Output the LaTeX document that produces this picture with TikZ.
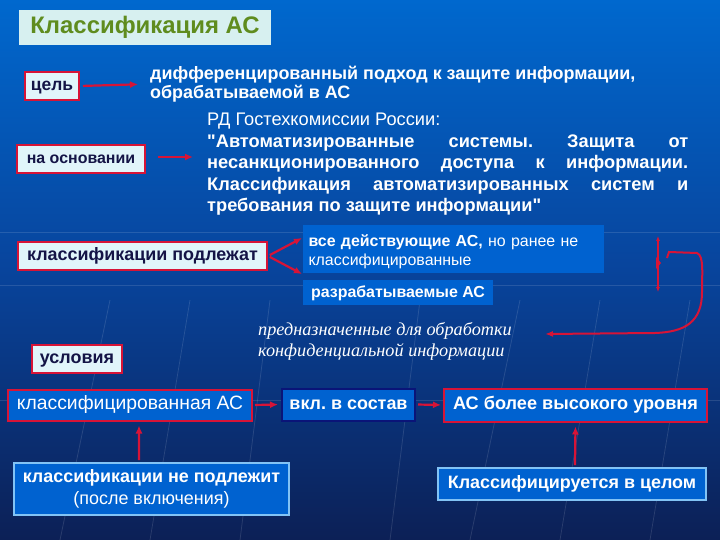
\documentclass[tikz,border=0pt]{standalone}
\usepackage{fontspec}
\setmainfont{Liberation Sans}[Ligatures=TeXOff]
\newfontfamily\serifit{Liberation Serif}
\usetikzlibrary{arrows.meta}
\frenchspacing
\definecolor{bgtop}{RGB}{0,104,206}
\definecolor{bgmid}{RGB}{8,68,156}
\definecolor{bgbot}{RGB}{12,32,86}
\definecolor{lightbox}{RGB}{225,245,250}
\definecolor{titlebox}{RGB}{215,240,240}
\definecolor{redb}{RGB}{215,20,55}
\definecolor{navytext}{RGB}{20,20,70}
\definecolor{bluebox}{RGB}{0,98,208}
\definecolor{titlegreen}{RGB}{95,140,30}
\definecolor{navyedge}{RGB}{10,20,120}
\definecolor{lightedge}{RGB}{130,195,245}
\tikzset{
  one/.style={text height=13bp, text depth=3.5bp},
  lbox/.style={draw=redb, line width=2bp, fill=lightbox, text=navytext, inner sep=0pt, one},
  bbox/.style={fill=bluebox, text=white, inner sep=0pt},
  rarrow/.style={draw=redb, line width=2.2bp, -{Latex[length=8bp,width=7bp]}},
  wtext/.style={text=white, inner sep=0pt},
  deco/.style={draw=white, opacity=0.12, line width=0.8bp}
}
\begin{document}
\frenchspacing
\begin{tikzpicture}[x=1bp,y=-1bp]
\fill[top color=bgtop, bottom color=bgbot, middle color=bgmid] (0,0) rectangle (720,540);
\useasboundingbox (0,0) rectangle (720,540);
% background texture
\foreach \xa/\xb in {110/60, 190/150, 270/240, 420/390, 520/470, 600/560, 690/650}
  \draw[deco] (\xa,300) -- (\xb,540);
\foreach \yy in {232, 285, 400}
  \draw[deco] (0,\yy) -- (720,\yy);

% title
\node[fill=titlebox, text=titlegreen, inner sep=0pt, minimum width=252bp, minimum height=35bp,
      text height=17bp, text depth=4.5bp,
      font=\fontsize{24}{27}\selectfont\bfseries] (title) at (145,27.5) {Классификация АС};

% цель
\node[lbox, minimum width=54bp, minimum height=28bp, font=\fontsize{17.5}{20}\selectfont\bfseries] (cel) at (52,86) {цель};
\node[wtext, anchor=west, align=left, font=\fontsize{18}{19}\selectfont\bfseries] (d1) at (150,84)
  {дифференцированный подход к защите информации,\\обрабатываемой в АС};
\draw[rarrow, shorten <=3bp, shorten >=12bp] (cel.east) -- (d1.west);

% на основании
\node[lbox, minimum width=128bp, minimum height=28bp, font=\fontsize{16}{19}\selectfont\bfseries] (osn) at (81,159) {на основании};
\node[wtext, anchor=north west, text width=481bp, align=justify, font=\fontsize{18.3}{21.5}\selectfont] (rd) at (207,113)
  {РД Гостехкомиссии России:\\ \bfseries "Автоматизированные системы. Защита от несанкционированного доступа к информации. Классификация автоматизированных систем и требования по защите информации"};
\coordinate (osnend) at (193,157);
\draw[rarrow, shorten <=12bp] (osn.east |- osnend) -- (osnend);

% классификации подлежат
\node[lbox, minimum width=249bp, minimum height=28bp, font=\fontsize{18}{21}\selectfont\bfseries] (podl) at (142.5,256) {классификации подлежат};
\node[bbox, minimum width=301bp, minimum height=48bp, text width=290bp, align=left, font=\fontsize{16}{19}\selectfont] (vse) at (453.5,249)
  {\rule{0pt}{17bp}\textbf{все действующие АС,} но ранее не\\классифицированные};
\node[bbox, one, minimum width=190bp, minimum height=25bp, font=\fontsize{16}{19}\selectfont\bfseries] (razr) at (398,292.5) {разрабатываемые АС};
\coordinate (a1) at (302,238);
\coordinate (a2) at (302,274);
\draw[rarrow, shorten <=2bp] (podl.east) -- (a1);
\draw[rarrow, shorten <=2bp] (podl.east) -- (a2);

% right-side hand drawn marks
\draw[redb, line width=1.8bp, {Latex[length=5bp,width=4bp]}-{Latex[length=5bp,width=4bp]}] (658,236) -- (658,292);
\fill[redb] (656,257) -- (661,263) -- (656,269) -- cycle;
\coordinate (hookend) at (545,334);
\draw[redb, line width=2bp, -{Latex[length=8bp,width=6bp]}]
  (667,258) -- (669,252) -- (697,253) .. controls (704,256) and (702,272) .. (702,292)
  .. controls (702,322) and (685,332) .. (655,333) -- (hookend);

% italic note
\node[wtext, anchor=west, align=left, font=\serifit\itshape\fontsize{18.3}{21}\selectfont] (pred) at (258,341)
  {предназначенные для обработки\\конфиденциальной информации};

% условия
\node[lbox, minimum width=90bp, minimum height=28bp, font=\fontsize{18}{21}\selectfont\bfseries] (usl) at (77,359) {условия};

% bottom row
\node[bbox, one, draw=redb, line width=2bp, minimum width=244bp, minimum height=31bp, font=\fontsize{19.4}{22}\selectfont] (kas) at (130,405) {классифицированная АС};
\node[bbox, one, draw=navyedge, line width=2bp, minimum width=133bp, minimum height=32bp, font=\fontsize{18}{21}\selectfont\bfseries] (vkl) at (348.5,404.5) {вкл. в состав};
\node[bbox, one, draw=redb, line width=2bp, minimum width=263bp, minimum height=33bp, font=\fontsize{18.2}{21}\selectfont\bfseries] (vys) at (575.5,405) {АС более высокого уровня};
\draw[rarrow, shorten <=2bp, shorten >=3bp] (kas.east) -- (vkl.west);
\draw[rarrow, shorten <=2bp, shorten >=2bp] (vkl.east) -- (vys.west);

\node[bbox, draw=lightedge, line width=1.6bp, minimum width=275bp, minimum height=52bp, align=center, font=\fontsize{18}{22}\selectfont] (nepodl) at (151.5,489)
  {\textbf{классификации не подлежит}\\(после включения)};
\node[bbox, one, draw=lightedge, line width=1.6bp, minimum width=268bp, minimum height=32bp, font=\fontsize{18}{21}\selectfont\bfseries] (celom) at (572,484) {Классифицируется в целом};
\draw[rarrow, shorten <=2bp, shorten >=4bp] ([xshift=-12.5bp]nepodl.north) -- ([xshift=9bp]kas.south);
\draw[rarrow, shorten <=2bp, shorten >=4bp] ([xshift=3bp]celom.north) -- (vys.south);
\end{tikzpicture}
\end{document}
